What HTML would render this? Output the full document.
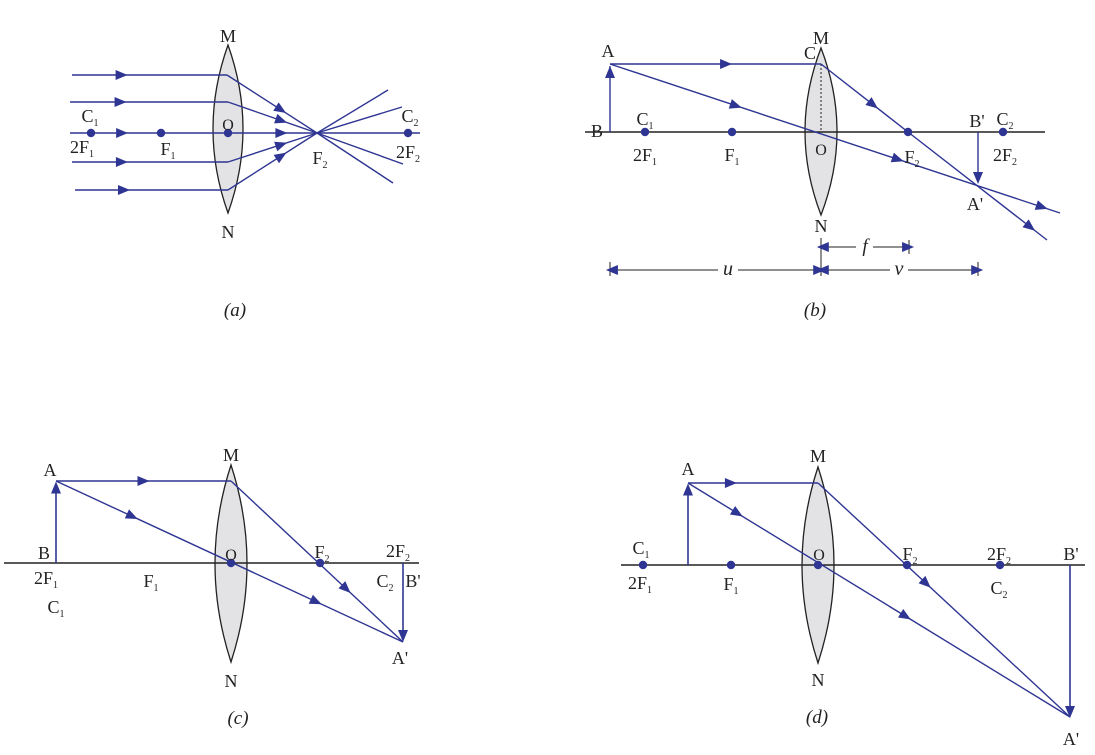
<!DOCTYPE html>
<html><head><meta charset="utf-8"><style>
html,body{margin:0;padding:0;background:#fff}
svg{display:block}
text{font-family:"Liberation Serif",serif;fill:#222}
</style></head><body>
<svg id="fig" width="1095" height="755" viewBox="0 0 1095 755" xmlns="http://www.w3.org/2000/svg"></svg>
<script>
const BLUE = '#2e3592';
// Panel geometry data (diagram points)
const lensesX = [228, 821, 231, 818];
const lensesTop = [45, 48, 465, 467];
const lensesBot = [213, 215, 662, 663];
const lensesHW = [15, 16, 16, 16];
const axisY = [133, 132, 563, 565];
const axisFrom = [70, 585, 4, 621];
const axisTo = [420, 1045, 419, 1085];
const dotsA = [91, 161, 228, 408];
const dotsB = [645, 732, 908, 1003];
const dotsC = [231, 320];
const dotsD = [643, 731, 818, 907, 1000];
const raysA = [
 [[72,75],[227,75],[317,133],[393,183]],
 [[70,102],[228,102],[317,133],[403,164]],
 [[72,162],[228,162],[317,133],[402,107]],
 [[75,190],[228,190],[317,133],[388,90]]
];
const raysB = [[[610,64],[821,64],[908,132],[1047,240]], [[610,64],[1060,213]]];
const raysC = [[[56,481],[231,481],[403,642]], [[56,481],[403,642]]];
const raysD = [[[688,483],[818,483],[1070,717]], [[688,483],[1070,717]]];

const svg = document.getElementById('fig');
const NS = 'http://www.w3.org/2000/svg';
function mk(tag, attrs){ const e=document.createElementNS(NS,tag); for(const k in attrs) e.setAttribute(k,attrs[k]); svg.appendChild(e); return e; }
function line(x1,y1,x2,y2,col,name,w){ const e=mk('line',{x1,y1,x2,y2,stroke:col,'stroke-width':w||1.4});
 
 
 return e; }
function arrowHead(x1,y1,x2,y2,t,name){
 const px=x1+(x2-x1)*t, py=y1+(y2-y1)*t; const a=Math.atan2(y2-y1,x2-x1)*180/Math.PI;
 const e=mk('polygon',{points:'6,0 -6,-5 -6,5',fill:BLUE,transform:`translate(${px},${py}) rotate(${a})`});
 
 
}
function lens(i){
 const cx=lensesX[i], t=lensesTop[i], b=lensesBot[i], hw=lensesHW[i], m=(t+b)/2;
 const e=mk('path',{d:`M${cx},${t} Q${cx+2*hw},${m} ${cx},${b} Q${cx-2*hw},${m} ${cx},${t}Z`,fill:'#e3e3e5',stroke:'#222','stroke-width':1.3});
 
 
}
function axis(i,col){ line(axisFrom[i],axisY[i],axisTo[i],axisY[i],col,'principal-axis',1.6); }
function dots(arr,y){ arr.forEach(x=>{ const e=mk('circle',{cx:x,cy:y,r:4.2,fill:BLUE});
 
  }); }
function ray(pts,arrows){
 for(let k=0;k<pts.length-1;k++) line(pts[k][0],pts[k][1],pts[k+1][0],pts[k+1][1],BLUE,'light-ray',1.4);
 arrows.forEach(([s,t])=>arrowHead(pts[s][0],pts[s][1],pts[s+1][0],pts[s+1][1],t,'ray-arrow'));
}
function txt(x,y,s,sub,size,italic,name){
 const e=mk('text',{x,y,'font-size':size||18,'text-anchor':'middle'});
 if(italic) e.setAttribute('font-style','italic');
 e.textContent=s;
 if(sub){ const ts=document.createElementNS(NS,'tspan'); ts.setAttribute('font-size',10); ts.setAttribute('dy',4); ts.textContent=sub; e.appendChild(ts); }
 
 
}

// Panel (a)
lens(0); axis(0,BLUE);
raysA.forEach(r=>ray(r,[[0,0.32],[1,0.6]]));
arrowHead(70,133,228,133,0.33,'ray-arrow'); arrowHead(228,133,317,133,0.6,'ray-arrow');
dots(dotsA,133);
txt(90,122,'C','1'); txt(82,153,'2F','1'); txt(168,155,'F','1'); txt(228,130,'O',null,16);
txt(320,164,'F','2'); txt(410,122,'C','2'); txt(408,158,'2F','2'); txt(228,42,'M'); txt(228,238,'N');
txt(235,316,'(a)',null,19,true,'caption-a');

// Panel (b)
lens(1); axis(1,'#222');
line(821,64,821,132,'#222','lens-center-dotted',1).setAttribute('stroke-dasharray','2,2');
line(610,132,610,66,BLUE,'object-AB',1.4); arrowHead(610,80,610,64,0.5,'object-arrow');
ray(raysB[0],[[0,0.55],[1,0.6],[2,0.88]]);
ray(raysB[1],[[0,0.28],[0,0.64],[0,0.96]]);
line(978,132,978,178,BLUE,'image-AB-prime',1.4); arrowHead(978,170,978,186,0.5,'image-arrow');
dots(dotsB,132);
txt(608,57,'A'); txt(810,59,'C'); txt(821,44,'M'); txt(597,137,'B'); txt(645,125,'C','1');
txt(645,161,'2F','1'); txt(732,161,'F','1'); txt(821,155,'O',null,16); txt(912,163,'F','2');
txt(977,127,"B'"); txt(1005,125,'C','2'); txt(1005,161,'2F','2'); txt(975,210,"A'"); txt(821,232,'N');
line(821,238,821,276,'#222','dim-tick',1); line(610,262,610,276,'#222','dim-tick',1); line(978,262,978,276,'#222','dim-tick',1); line(909,240,909,254,'#222','dim-tick',1);
line(822,247,856,247,'#222','f-dimension',1); line(873,247,908,247,'#222','f-dimension',1);
arrowHead(830,247,822,247,0.9,'dim-arrow'); arrowHead(900,247,909,247,0.9,'dim-arrow');
txt(865,252,'f',null,19,true,'f-label');
line(611,270,718,270,'#222','u-dimension',1); line(738,270,820,270,'#222','u-dimension',1);
line(822,270,890,270,'#222','v-dimension',1); line(908,270,977,270,'#222','v-dimension',1);
arrowHead(620,270,611,270,0.9,'dim-arrow'); arrowHead(812,270,820,270,0.9,'dim-arrow');
arrowHead(830,270,822,270,0.9,'dim-arrow'); arrowHead(970,270,978,270,0.9,'dim-arrow');
txt(728,275,'u',null,20,true,'u-label'); txt(899,275,'v',null,20,true,'v-label');
txt(815,316,'(b)',null,19,true,'caption-b');

// Panel (c)
lens(2); axis(2,'#222');
line(56,563,56,484,BLUE,'object-AB',1.6); arrowHead(56,495,56,480,0.5,'object-arrow');
ray(raysC[0],[[0,0.5],[1,0.67]]);
ray(raysC[1],[[0,0.22],[0,0.75]]);
line(403,563,403,634,BLUE,'image-AB-prime',1.6); arrowHead(403,628,403,644,0.5,'image-arrow');
dots(dotsC,563);
txt(50,476,'A'); txt(231,461,'M'); txt(44,559,'B'); txt(46,584,'2F','1'); txt(56,613,'C','1');
txt(151,587,'F','1'); txt(231,560,'O',null,16); txt(322,558,'F','2'); txt(398,557,'2F','2');
txt(385,587,'C','2'); txt(413,587,"B'"); txt(400,664,"A'"); txt(231,687,'N');
txt(238,724,'(c)',null,19,true,'caption-c');

// Panel (d)
lens(3); axis(3,'#222');
line(688,565,688,486,BLUE,'object-AB',1.6); arrowHead(688,497,688,482,0.5,'object-arrow');
ray(raysD[0],[[0,0.33],[1,0.43]]);
ray(raysD[1],[[0,0.13],[0,0.57]]);
line(1070,565,1070,710,BLUE,'image-AB-prime',1.6); arrowHead(1070,704,1070,720,0.5,'image-arrow');
dots(dotsD,565);
txt(688,475,'A'); txt(818,462,'M'); txt(641,554,'C','1'); txt(640,589,'2F','1'); txt(731,590,'F','1');
txt(819,560,'O',null,16); txt(910,560,'F','2'); txt(999,560,'2F','2'); txt(999,594,'C','2');
txt(1071,560,"B'"); txt(1071,745,"A'"); txt(818,686,'N');
txt(817,723,'(d)',null,19,true,'caption-d');
</script>
</body></html>
